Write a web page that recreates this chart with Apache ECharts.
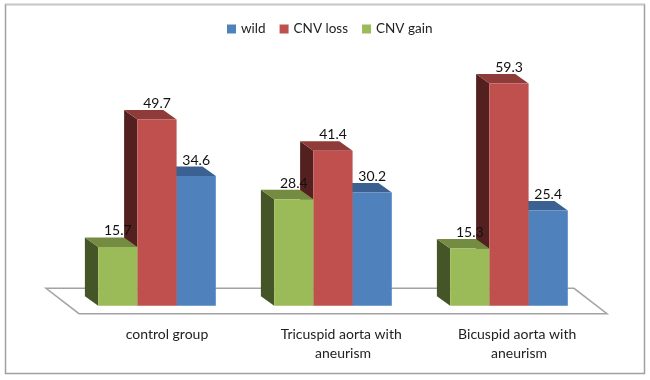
<!DOCTYPE html>
<html>
<head>
<meta charset="utf-8">
<style>
  html, body { margin: 0; padding: 0; background: #fff; }
  #main { width: 650px; height: 380px; }
</style>
<script src="https://cdn.jsdelivr.net/npm/echarts@6/dist/echarts.min.js"></script>
</head>
<body>
<div id="main"></div>
<script>
let categories = ['control group', 'Tricuspid aorta with aneurism', 'Bicuspid aorta with aneurism'];
let wild = [34.6, 30.2, 25.4];
let cnvLoss = [49.7, 41.4, 59.3];
let cnvGain = [15.7, 28.4, 15.3];

let chart = echarts.init(document.getElementById('main'));

// depth of one bar, and how far the bars sit back from the front edge of the floor
let depthX = 13.3, depthY = 9.5;
let insetX = 10, insetY = 8;
let barFrac = 39.2 / 176;

function renderBar(slot, colors) {
  return function (params, api) {
    let i = api.value(0);
    let v = api.value(1);
    let band = api.size([1, 0])[0];
    let w = band * barFrac;
    let center = api.coord([i, 0])[0];
    let x0 = center - insetX + (slot - 1.5) * w;
    let x1 = x0 + w;
    let y0 = api.coord([i, 0])[1] - insetY;
    let y1 = api.coord([i, v])[1] - insetY;
    return {
      type: 'group',
      children: [
        {
          type: 'polygon',
          shape: { points: [[x0, y0], [x0, y1], [x0 - depthX, y1 - depthY], [x0 - depthX, y0 - depthY]] },
          style: { fill: colors.side }
        },
        {
          type: 'polygon',
          shape: { points: [[x0, y1], [x1, y1], [x1 - depthX, y1 - depthY], [x0 - depthX, y1 - depthY]] },
          style: { fill: colors.top }
        },
        {
          type: 'rect',
          shape: { x: x0, y: y1, width: w, height: y0 - y1 },
          style: { fill: colors.front }
        },
        {
          type: 'text',
          z2: 100,
          style: {
            text: v.toFixed(1),
            x: x0 + w / 2,
            y: y1 - depthY - 6.5,
            align: 'center',
            verticalAlign: 'middle',
            fill: '#111',
            font: '14px Lato'
          }
        }
      ]
    };
  };
}

function renderFloor(params, api) {
  let c = params.coordSys;
  let left = c.x, right = c.x + c.width, y = c.y + c.height;
  return {
    type: 'polygon',
    silent: true,
    shape: { points: [[left, y], [right, y], [right - 33, y - 25.4], [left - 33, y - 25.4]] },
    style: { fill: '#fff', stroke: '#a3a3a3', lineWidth: 1.5 }
  };
}

function barSeries(name, data, slot, colors) {
  return {
    name: name,
    type: 'custom',
    renderItem: renderBar(slot, colors),
    itemStyle: { color: colors.front },
    encode: { x: 0, y: 1 },
    data: data.map(function (v, i) { return [i, v]; }),
    z: 3
  };
}

let option = {
  animation: false,
  backgroundColor: '#fff',
  textStyle: { fontFamily: 'Lato' },
  legend: {
    left: 227,
    top: 22,
    padding: 0,
    itemWidth: 9,
    itemHeight: 9,
    itemGap: 14,
    icon: 'rect',
    selectedMode: false,
    textStyle: { fontSize: 13.5, color: '#222', fontFamily: 'Lato' },
    data: ['wild', 'CNV loss', 'CNV gain']
  },
  grid: { left: 79, width: 528, top: 51.5, height: 262.2 },
  xAxis: {
    type: 'category',
    data: categories,
    axisLine: { show: false },
    axisTick: { show: false },
    axisLabel: {
      margin: 11,
      width: 150,
      overflow: 'break',
      lineHeight: 19,
      fontSize: 14,
      fontFamily: 'Lato',
      color: '#222',
      interval: 0
    }
  },
  yAxis: {
    type: 'value',
    min: 0,
    max: 70,
    show: false
  },
  graphic: [
    { type: 'rect', shape: { x: 5.5, y: 4.5, width: 639, height: 369 }, style: { fill: 'none', stroke: '#a0a0a0', lineWidth: 1.5 }, z: -1 },
    { type: 'line', shape: { x1: 5.5, y1: 4.5, x2: 644.5, y2: 4.5 }, style: { stroke: '#c8c8c8', lineWidth: 1.5 }, z: -1 }
  ],
  series: [
    {
      type: 'custom',
      renderItem: renderFloor,
      encode: { x: 0, y: 1 },
      data: [[0, 0]],
      tooltip: { show: false },
      z: 1
    },
    barSeries('wild', wild, 2, { front: '#4f81bd', top: '#3a6191', side: '#2c4a70' }),
    barSeries('CNV loss', cnvLoss, 1, { front: '#c0504d', top: '#8f3b39', side: '#54201f' }),
    barSeries('CNV gain', cnvGain, 0, { front: '#9bbb59', top: '#748c42', side: '#465527' })
  ]
};

chart.setOption(option);
</script>
</body>
</html>
